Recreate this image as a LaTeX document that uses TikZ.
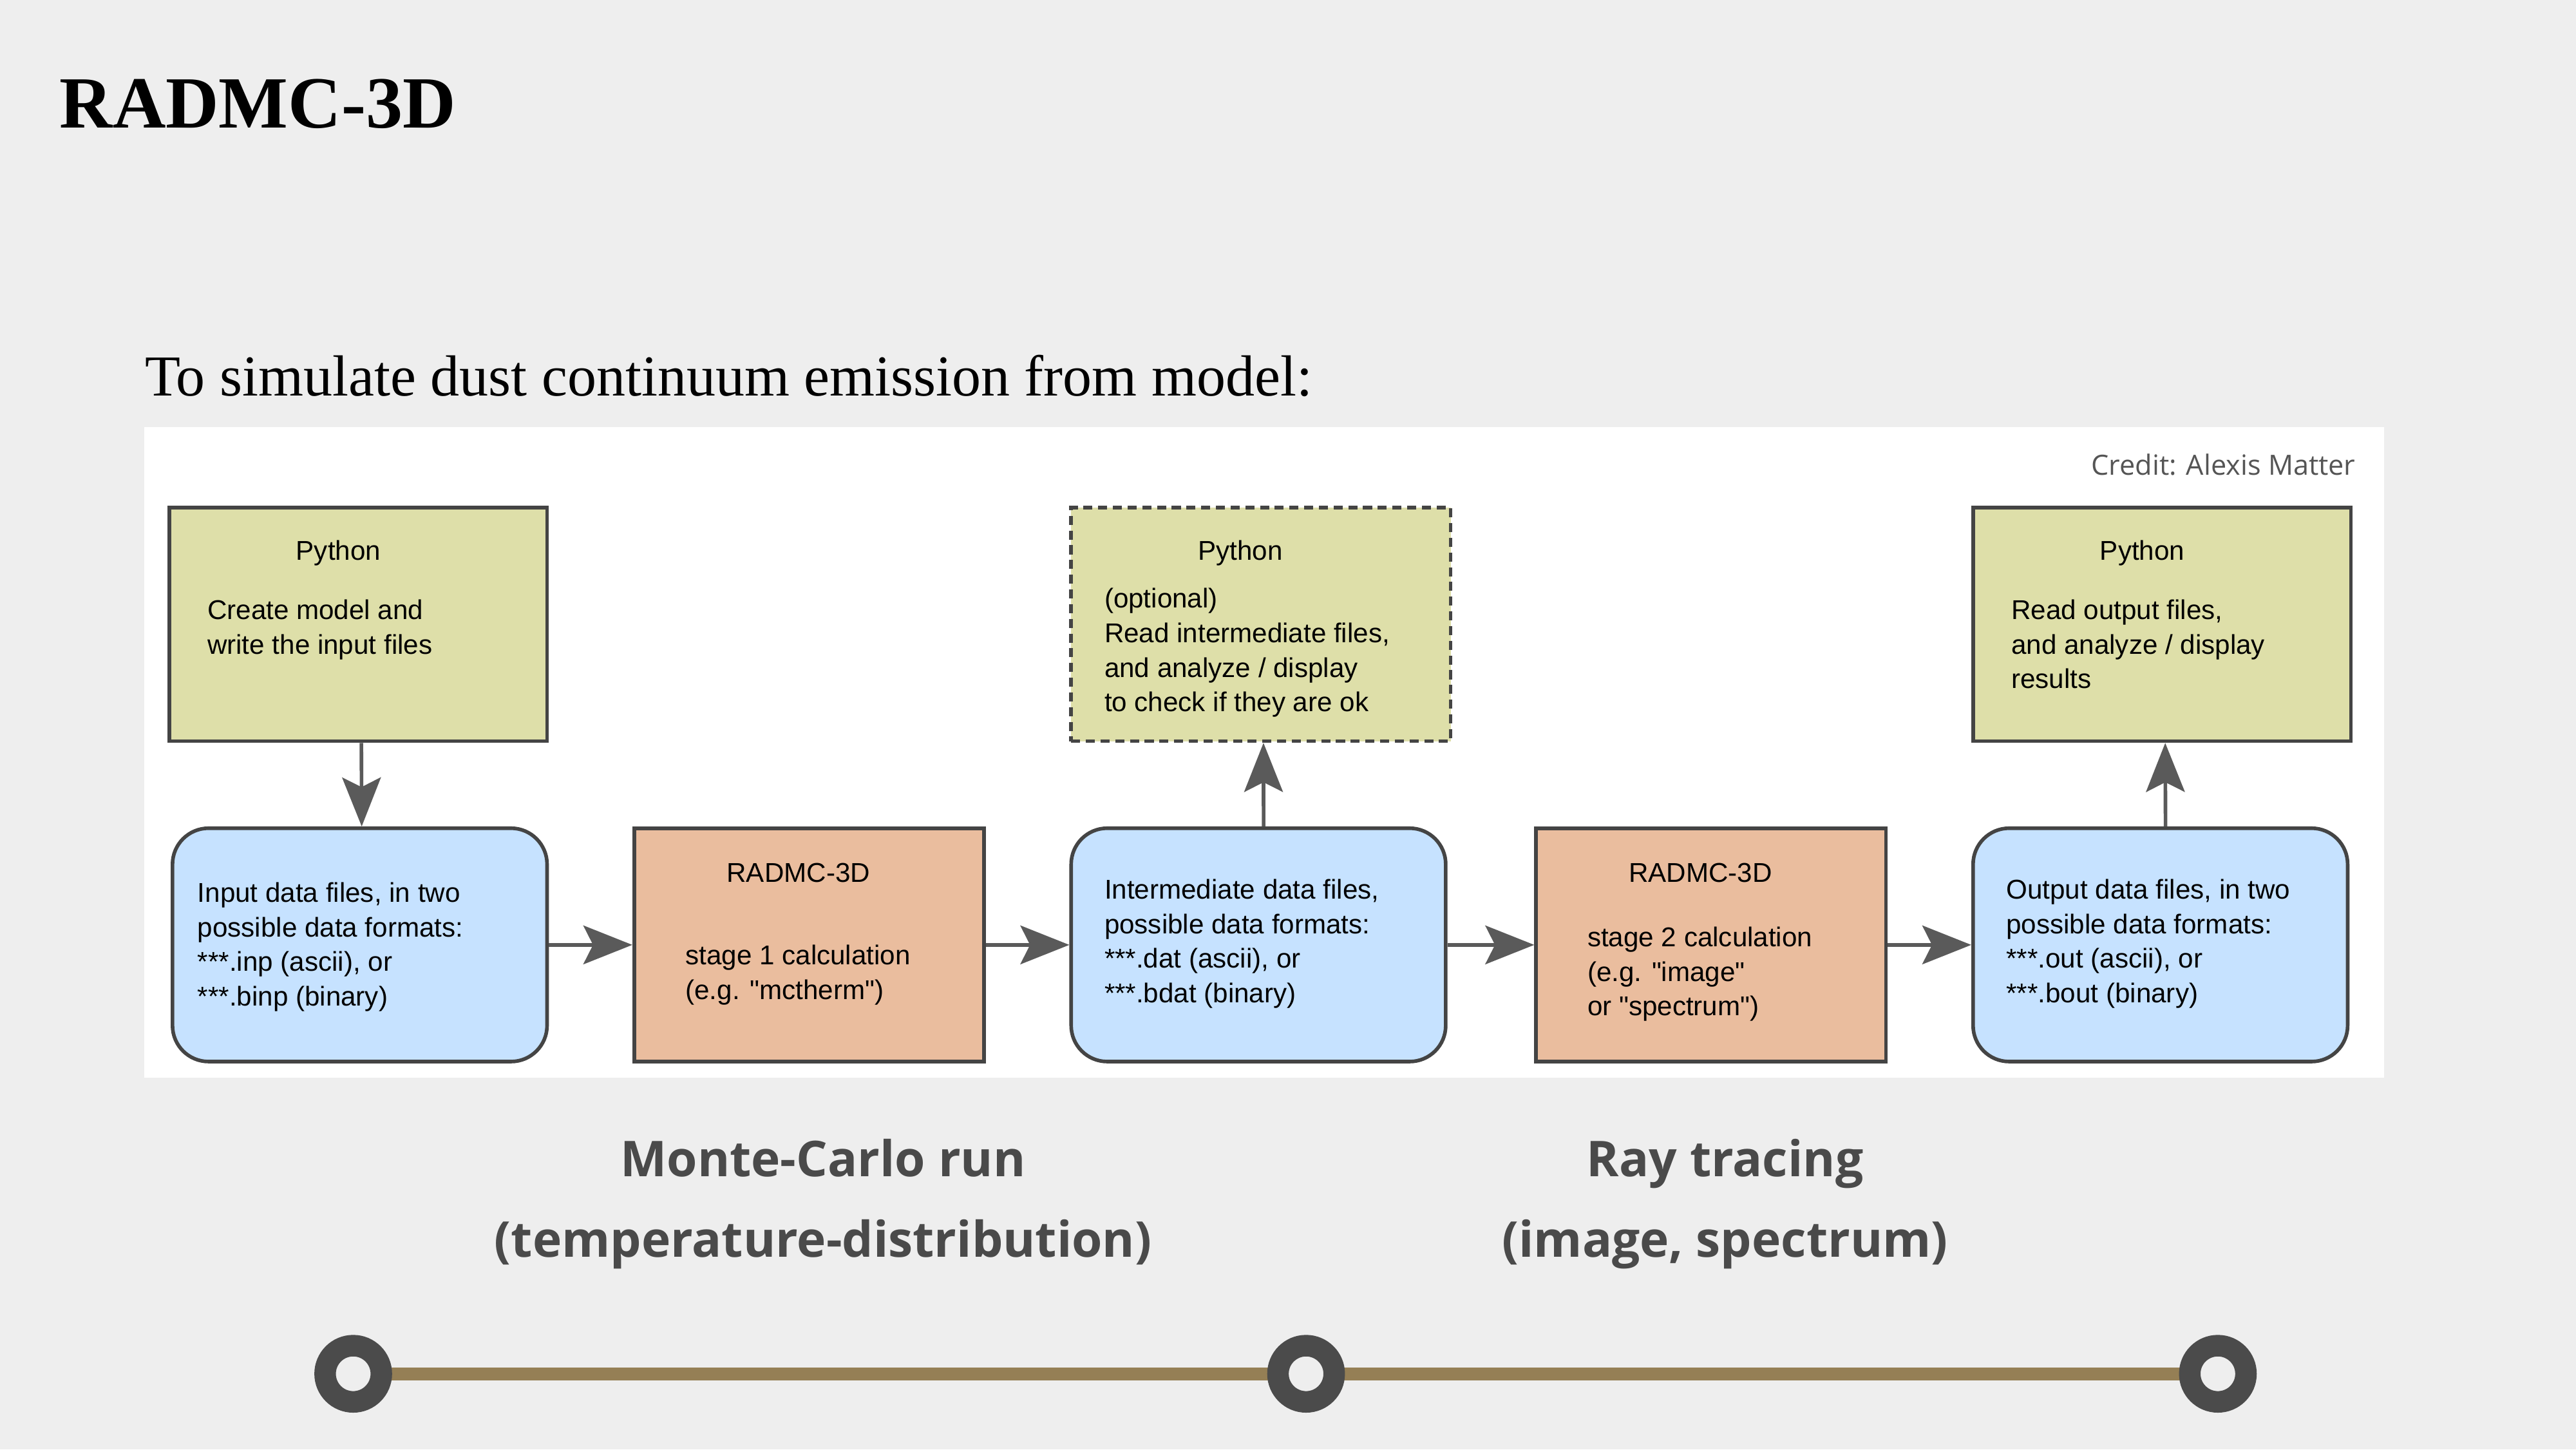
\documentclass[tikz,border=0pt]{standalone}
\usepackage{fontspec}
\setmainfont{Liberation Serif}
\setsansfont{Liberation Sans}
\newfontfamily\opensans{Open Sans}
\usetikzlibrary{arrows.meta,fit,positioning}
\definecolor{bgcol}{HTML}{EEEEEE}
\definecolor{pycol}{HTML}{DEDFA9}
\definecolor{datcol}{HTML}{C6E2FF}
\definecolor{radcol}{HTML}{EABD9E}
\definecolor{edgecol}{HTML}{444444}
\definecolor{arrcol}{HTML}{5A5A5A}
\definecolor{trackcol}{HTML}{957F55}
\definecolor{ringcol}{HTML}{4B4B4B}
\definecolor{labcol}{HTML}{4A4A4A}
\definecolor{credcol}{HTML}{555555}
\newcommand{\qt}{\textquotedbl}
\tikzset{
  pybox/.style   = { draw=edgecol, line width=1.6pt, fill=pycol, inner sep=0pt },
  datbox/.style  = { draw=edgecol, line width=1.6pt, fill=datcol, rounded corners=0.56cm, inner sep=0pt },
  radbox/.style  = { draw=edgecol, line width=1.6pt, fill=radcol, inner sep=0pt },
  % base of a multi-line node = baseline of its last line
  boxtxt/.style  = { font=\sffamily\fontsize{12}{15.24}\selectfont, align=left, inner sep=0pt, anchor=base west },
  boxhead/.style = { font=\sffamily\fontsize{12}{15.24}\selectfont, inner sep=0pt, anchor=base },
  flow/.style    = { color=arrcol, line width=1.6pt, -{Stealth[length=0.76cm, width=0.6cm, inset=0.15cm]} },
  ring/.style    = { circle, draw=ringcol, line width=0.334cm, fill=bgcol, minimum size=0.873cm, inner sep=0pt },
  track/.style   = { draw=trackcol, line width=0.2cm },
  steplab/.style = { font=\opensans\bfseries\fontsize{21.8}{26}\selectfont, text=labcol, inner sep=0pt, anchor=base }
}
\begin{document}
\begin{tikzpicture}[x=0.02551cm, y=-0.02551cm]
    \fill[bgcol] (0,0) rectangle (1568,882);
    \useasboundingbox (0,0) rectangle (1568,882);
    \fill[white] (88,260) rectangle (1451,656);

    \node[anchor=base west, inner sep=0pt, font=\bfseries\fontsize{32.5}{40}\selectfont] (title) at (36,78) {RADMC-3D};
    \node[anchor=base west, inner sep=0pt, font=\fontsize{25.6}{30}\selectfont] (subtitle) at (88,241)
      {To simulate dust continuum emission from model:};
    \node[anchor=base east, inner sep=0pt, text=credcol, font=\opensans\fontsize{12.3}{15}\selectfont] (credit) at (1434,289)
      {Credit: Alexis Matter};

    % python boxes
    \node[pybox, fit={(103,309) (333,451)}] (py1) {};
    \node[pybox, dashed, dash pattern=on 4pt off 2.5pt, fit={(652,309) (883,451)}] (py2) {};
    \node[pybox, fit={(1201,309) (1431,451)}] (py3) {};

    % data files and radmc stages
    \node[datbox, fit={(105,504) (333,646)}] (inp) {};
    \node[radbox, fit={(386,504) (599,646)}] (rad1) {};
    \node[datbox, fit={(652,504) (880,646)}] (mid) {};
    \node[radbox, fit={(935,504) (1148,646)}] (rad2) {};
    \node[datbox, fit={(1201,504) (1429,646)}] (out) {};

    \node[boxhead] at (206,341) {Python};
    \node[boxtxt] at (126,398) {Create model and\\write the input files};
    \node[boxhead] at (755,341) {Python};
    \node[boxtxt] at (672,433) {(optional)\\Read intermediate files,\\and analyze / display\\to check if they are ok};
    \node[boxhead] at (1304,341) {Python};
    \node[boxtxt] at (1224,419) {Read output files,\\and analyze / display\\results};

    \node[boxtxt] at (120,612) {Input data files, in two\\possible data formats:\\***.inp (ascii), or\\***.binp (binary)};
    \node[boxhead] at (486,537) {RADMC-3D};
    \node[boxtxt] at (417,608) {stage 1 calculation\\(e.g. \qt mctherm\qt)};
    \node[boxtxt] at (672,610) {Intermediate data files,\\possible data formats:\\***.dat (ascii), or\\***.bdat (binary)};
    \node[boxhead] at (1035,537) {RADMC-3D};
    \node[boxtxt] at (966,618) {stage 2 calculation\\(e.g. \qt image\qt\\or \qt spectrum\qt)};
    \node[boxtxt] at (1221,610) {Output data files, in two\\possible data formats:\\***.out (ascii), or\\***.bout (binary)};

    \path[flow] ([xshift=0.05cm]py1.south) edge ([xshift=0.03cm]inp.north);
    \path[flow] (inp) edge (rad1);
    \path[flow] (rad1) edge (mid);
    \path[flow] ([xshift=0.08cm]mid.north) edge ([xshift=0.04cm]py2.south);
    \path[flow] (mid) edge (rad2);
    \path[flow] (rad2) edge (out);
    \path[flow] ([xshift=0.08cm]out.north) edge ([xshift=0.05cm]py3.south);

    % stages underneath
    \node[steplab] (mc) at (501,716) {Monte-Carlo run};
    \node[steplab] (mcsub) at (501,765) {(temperature-distribution)};
    \node[steplab] (rt) at (1050,716) {Ray tracing};
    \node[steplab] (rtsub) at (1050,765) {(image, spectrum)};

    \coordinate (t1) at (215,836);
    \coordinate (t2) at (795,836);
    \coordinate (t3) at (1350,836);
    \draw[track] (t1) -- (t2) -- (t3);
    \foreach \t in {t1,t2,t3}
      \node[ring] at (\t) {};
\end{tikzpicture}
\end{document}
